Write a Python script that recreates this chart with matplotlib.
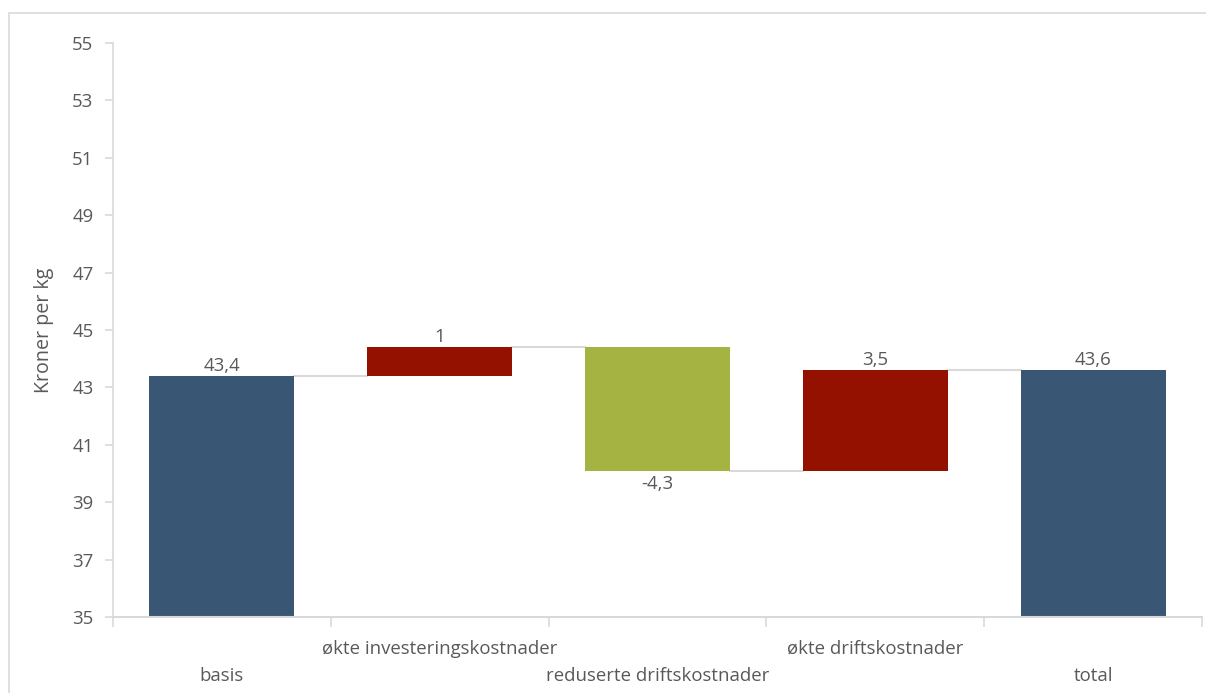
import matplotlib
matplotlib.use("Agg")
import matplotlib.pyplot as plt
from matplotlib.patches import Rectangle
import numpy as np

categories = ["basis", "økte investeringskostnader", "reduserte driftskostnader",
              "økte driftskostnader", "total"]
values = [43.4, 1.0, -4.3, 3.5, 43.6]
kinds = ["total", "delta", "delta", "delta", "total"]
value_labels = ["43,4", "1", "-4,3", "3,5", "43,6"]
y_ticks = [35, 37, 39, 41, 43, 45, 47, 49, 51, 53, 55]

blue = "#3a5675"
red = "#941100"
green = "#a5b342"
grid_gray = "#d9d9d9"
text_gray = "#595959"
font = "Open Sans"
fs = 13.4

fig = plt.figure(figsize=(12.06, 6.93), dpi=100)
ax = fig.add_axes([113/1206, 1-617/693, (1202-113)/1206, (617-43)/693])

w = 0.665
bottoms, tops = [], []
level = 0.0
for v, k in zip(values, kinds):
    if k == "total":
        b, t = 0.0, v
        level = v
    else:
        b = level
        level = level + v
        t = level
    bottoms.append(min(b, t))
    tops.append(max(b, t))

colors = []
for v, k in zip(values, kinds):
    if k == "total":
        colors.append(blue)
    elif v >= 0:
        colors.append(red)
    else:
        colors.append(green)

x = np.arange(len(categories))
heights = [t - b for b, t in zip(bottoms, tops)]
ax.bar(x, heights, bottom=bottoms, width=w, color=colors, zorder=2)

# connectors
levels = []
level = 0.0
for v, k in zip(values, kinds):
    level = v if k == "total" else level + v
    levels.append(level)
for i in range(len(categories) - 1):
    ax.plot([x[i] + w/2, x[i+1] - w/2], [levels[i], levels[i]],
            color=grid_gray, lw=1.5, zorder=1)

# value labels
for i, (v, k) in enumerate(zip(values, kinds)):
    if v >= 0:
        ax.annotate(value_labels[i], (x[i], tops[i]), xytext=(0, 1),
                    textcoords="offset points", ha="center", va="bottom",
                    fontsize=fs, color=text_gray, family=font)
    else:
        ax.annotate(value_labels[i], (x[i], bottoms[i]), xytext=(0, -3),
                    textcoords="offset points", ha="center", va="top",
                    fontsize=fs, color=text_gray, family=font)

ax.set_ylim(y_ticks[0], y_ticks[-1])
ax.set_xlim(-0.5, len(categories) - 0.5)
ax.set_yticks(y_ticks)
ax.set_yticklabels([str(t) for t in y_ticks], fontsize=fs, color=text_gray, family=font)
ax.set_xticks(np.arange(len(categories) + 1) - 0.5)
ax.set_xticklabels([])
ax.tick_params(axis="y", length=6, color=grid_gray, width=1.2, pad=8)
ax.tick_params(axis="x", length=7, color=grid_gray, width=1.2)

for i, c in enumerate(categories):
    off = -23 if i % 2 == 1 else -42.5
    ax.annotate(c, (x[i], y_ticks[0]), xytext=(0, off), textcoords="offset points",
                ha="center", va="center", fontsize=fs, color=text_gray, family=font,
                annotation_clip=False)

for s in ["top", "right"]:
    ax.spines[s].set_visible(False)
ax.spines["left"].set_color(grid_gray)
ax.spines["bottom"].set_color(grid_gray)
ax.spines["left"].set_linewidth(1.2)
ax.spines["bottom"].set_linewidth(1.5)
ax.spines["bottom"].set_zorder(3)

ax.set_ylabel("Kroner per kg", fontsize=14.2, color=text_gray, family=font, labelpad=13)

fig.patches.append(Rectangle((9/1206, -0.01), 1.02, 1 - 13/693 + 0.01,
                             transform=fig.transFigure, fill=False,
                             edgecolor=grid_gray, lw=1.2))

fig.savefig("out.png", dpi=100)
